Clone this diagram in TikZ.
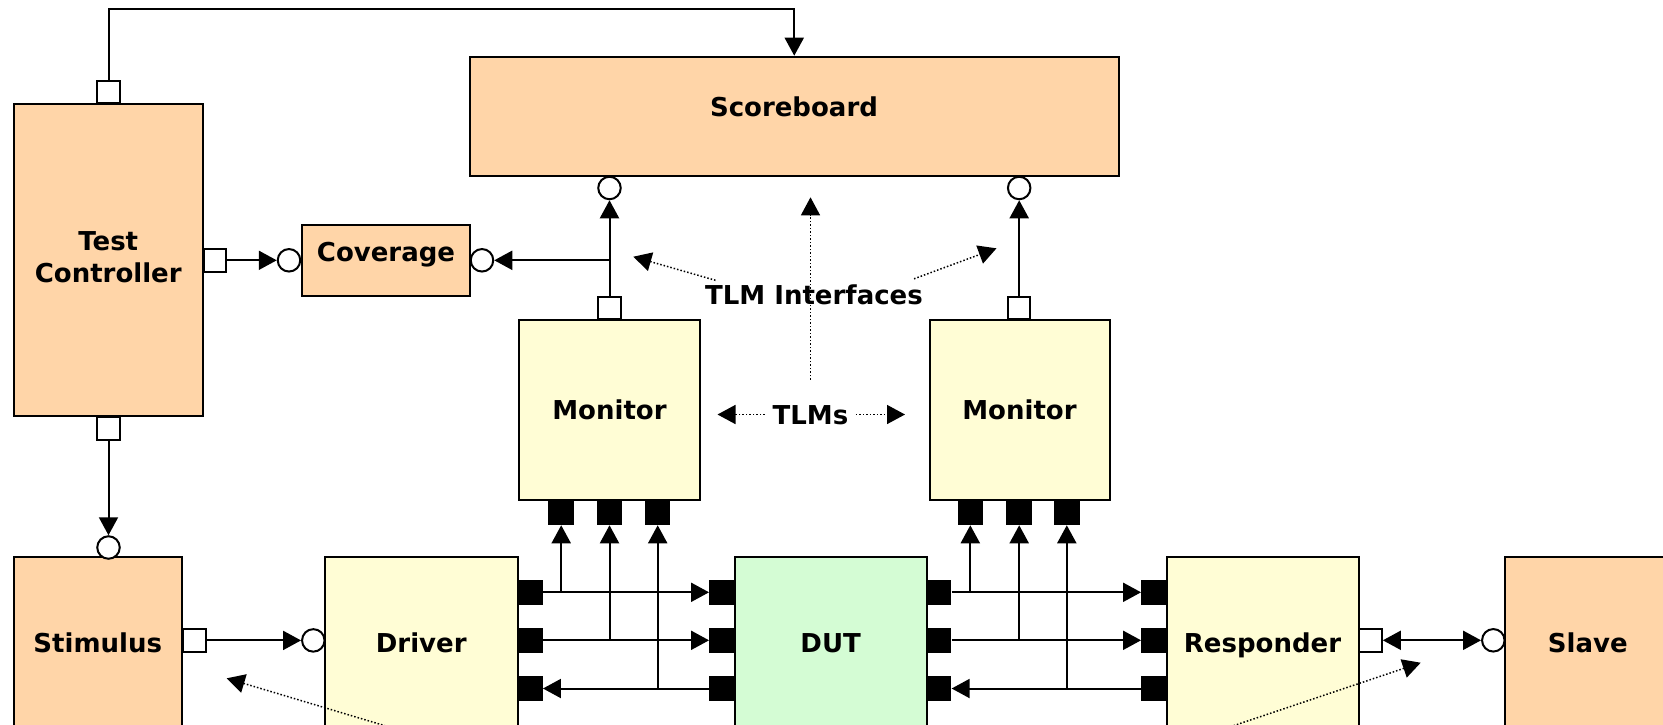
\documentclass[tikz,border=0pt]{standalone}
\usepackage{fontspec}
\setmainfont{DejaVu Sans}
\usetikzlibrary{arrows.meta}

\definecolor{peach}{RGB}{255,213,168}
\definecolor{lemon}{RGB}{255,253,213}
\definecolor{mint}{RGB}{212,252,212}

\tikzset{
  blk/.style={draw, line width=2pt, inner sep=0pt},
  lbl/.style={font=\fontsize{26}{32}\selectfont\bfseries, inner sep=0pt},
  ttl/.style={lbl, text height=19pt, text depth=0pt},
  oport/.style={draw, fill=white, line width=2pt, minimum size=22.5pt, inner sep=0pt},
  bport/.style={fill=black, minimum width=25.5pt, minimum height=25.5pt, inner sep=0pt},
  sock/.style={circle, draw, fill=white, line width=2pt, minimum size=22.5pt, inner sep=0pt},
  wire/.style={line width=2pt, ->},
  note/.style={line width=1.5pt, dotted, ->},
}

\begin{document}
\begin{tikzpicture}[x=1pt, y=-1pt, >={Triangle[length=18pt, width=19pt]}]
\useasboundingbox (0,0) rectangle (1663,724);
\clip (0,0) rectangle (1663,724);

% blocks
\node[blk, fill=peach, minimum width=189.5pt, minimum height=312pt] (tc) at (108.25,260) {};
\node[blk, fill=peach, minimum width=168pt, minimum height=71pt] (cov) at (386,260.5) {};
\node[blk, fill=peach, minimum width=648.5pt, minimum height=119.3pt] (sb) at (794.25,116.35) {};
\node[blk, ttl, fill=lemon, minimum width=181pt, minimum height=180pt] (mon1) at (609.5,410) {Monitor};
\node[blk, ttl, fill=lemon, minimum width=180pt, minimum height=180pt] (mon2) at (1019.5,410) {Monitor};
\node[blk, ttl, fill=peach, minimum width=168.5pt, minimum height=172pt] (stim) at (97.75,642.5) {Stimulus};
\node[blk, ttl, fill=lemon, minimum width=192.5pt, minimum height=172pt] (drv) at (421.25,642.5) {Driver};
\node[blk, ttl, fill=mint, minimum width=192pt, minimum height=172pt] (dut) at (830.65,642.5) {DUT};
\node[blk, ttl, fill=lemon, minimum width=192pt, minimum height=172pt] (resp) at (1262.5,642.5) {Responder};
\node[blk, ttl, fill=peach, minimum width=165pt, minimum height=172pt] (slave) at (1587.8,642.5) {Slave};

\node[lbl, align=center] (tc-l) at (108.25,256.7) {Test\\Controller};
\node[ttl] (cov-l) at (386,251.7) {Coverage};
\node[ttl] (sb-l) at (794,106.7) {Scoreboard};
\node[ttl] (tlmif) at (814,294.5) {TLM Interfaces};
\node[ttl] (tlms) at (810.5,414.5) {TLMs};

% open ports
\node[oport] (tc-n) at (108.5,92) {};
\node[oport] (tc-e) at (215,260.3) {};
\node[oport] (tc-s) at (108.5,428.5) {};
\node[oport] (stim-e) at (194.3,640.4) {};
\node[oport] (mon1-n) at (609.5,307.8) {};
\node[oport] (mon2-n) at (1019.2,307.8) {};
\node[oport] (resp-e) at (1370.6,640.3) {};

% sockets
\node[sock] (cov-w) at (289,260.3) {};
\node[sock] (cov-e) at (482,260.3) {};
\node[sock] (sb-a) at (609.5,188) {};
\node[sock] (sb-b) at (1019.2,188) {};
\node[sock] (stim-n) at (108.5,547.5) {};
\node[sock] (drv-w) at (313.3,640.4) {};
\node[sock] (slave-w) at (1493.3,640.3) {};

% pins
\foreach \i/\y in {1/592.3, 2/640.3, 3/688.5} {
    \node[bport] (drv-\i) at (530,\y) {};
    \node[bport] (dutl-\i) at (722,\y) {};
    \node[bport] (dutr-\i) at (938.7,\y) {};
    \node[bport] (resp-\i) at (1154,\y) {};
}
\foreach \i/\x in {1/561.2, 2/609.5, 3/657.7} {
    \node[bport] (mon1-\i) at (\x,512.3) {};
}
\foreach \i/\x in {1/970.3, 2/1019.2, 3/1066.8} {
    \node[bport] (mon2-\i) at (\x,512.3) {};
}

% connections
\coordinate (sb-top) at (794.25,8.7);
\draw[wire] (tc-n) |- (sb-top) -- (sb);
\draw[wire] (tc-e) -- (cov-w);
\draw[wire] (mon1-n) -- (sb-a);
\draw[wire] (mon1-n |- cov-e) -- (cov-e);
\draw[wire] (mon2-n) -- (sb-b);
\draw[wire] (tc-s) -- (stim-n);
\draw[wire] (stim-e) -- (drv-w);
\draw[wire, <->] (resp-e) -- (slave-w);

\foreach \i in {1,2} {
    \draw[wire] (drv-\i) -- (dutl-\i);
    \draw[wire] (dutr-\i) -- (resp-\i);
}
\draw[wire] (dutl-3) -- (drv-3);
\draw[wire] (resp-3) -- (dutr-3);
\foreach \i in {1,2,3} {
    \draw[wire] (mon1-\i |- drv-\i) -- (mon1-\i);
    \draw[wire] (mon2-\i |- dutr-\i) -- (mon2-\i);
}

% annotations
\coordinate (ifl) at (633.3,256.7);
\coordinate (ifr) at (996.5,248.3);
\coordinate (ifu) at (810.5,197.3);
\coordinate (tl) at (717.5,414.5);
\coordinate (tr) at (905,414.5);
\coordinate (drvsrc) at (426,738);
\coordinate (stimpt) at (226.7,678.3);
\coordinate (respsrc) at (1197,738);
\coordinate (resppt) at (1420.7,662.7);
\draw[note] ([shift={(10.5,-4.5)}]tlmif.north west) -- (ifl);
\draw[note] ([shift={(-9,-6)}]tlmif.north east) -- (ifr);
\draw[note] ([shift={(0,-25)}]tlms.north) -- (ifu);
\draw[note] ([shift={(-7.7,0)}]tlms.west) -- (tl);
\draw[note] ([shift={(7.4,0)}]tlms.east) -- (tr);
\draw[note] (drvsrc) -- (stimpt);
\draw[note] (respsrc) -- (resppt);
\end{tikzpicture}
\end{document}
